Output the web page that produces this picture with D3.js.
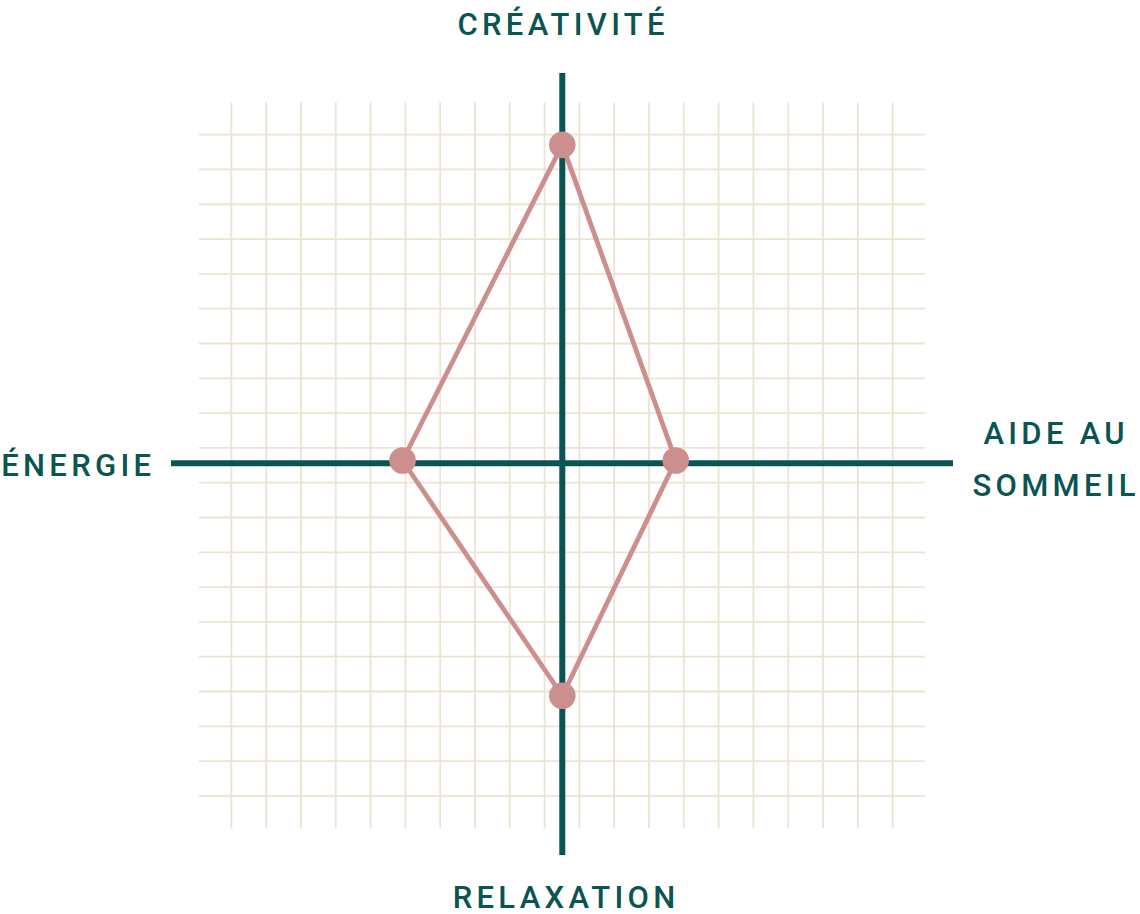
<!DOCTYPE html>
<html>
<head>
<meta charset="utf-8">
<script src="https://cdn.jsdelivr.net/npm/d3@7"></script>
<style>
  html, body { margin: 0; padding: 0; background: #ffffff; }
  svg { display: block; }
</style>
</head>
<body>
<svg id="chart" width="1140" height="914"></svg>
<script>
// ---- data ----
const axisNames = ["CRÉATIVITÉ", "AIDE AU SOMMEIL", "RELAXATION", "ÉNERGIE"];
const axisDirs = [[0, 1], [1, 0], [0, -1], [-1, 0]];
const values = [9.07, 3.26, 6.76, 4.59];
const gridTicks = [-9.5, -8.5, -7.5, -6.5, -5.5, -4.5, -3.5, -2.5, -1.5, -0.5,
                   0.5, 1.5, 2.5, 3.5, 4.5, 5.5, 6.5, 7.5, 8.5, 9.5];

// ---- layout ----
const svg = d3.select("#chart");
const teal = "#0a5452";
const rose = "#cd8e8e";
const gridColor = "#ede3d2";

const gx = d3.scaleLinear().domain([-10.43, 10.43]).range([199, 925]);
const gy = d3.scaleLinear().domain([-10.43, 10.43]).range([828.3, 102.3]);
const r = d3.scaleLinear().domain([0, 10]).range([0, 348]);
const cx = 562.3, cyAxis = 463.3, cyData = 460.5;

// grid
const grid = svg.append("g");
grid.selectAll("line.v").data(gridTicks).join("line")
  .attr("x1", d => gx(d)).attr("x2", d => gx(d))
  .attr("y1", gy(10.43)).attr("y2", gy(-10.43))
  .attr("stroke", gridColor).attr("stroke-width", 1.8);
grid.selectAll("line.h").data(gridTicks).join("line")
  .attr("y1", d => gy(d)).attr("y2", d => gy(d))
  .attr("x1", gx(-10.43)).attr("x2", gx(10.43))
  .attr("stroke", gridColor).attr("stroke-width", 1.8);

// axes
svg.append("line").attr("x1", cx).attr("x2", cx).attr("y1", 73).attr("y2", 855)
  .attr("stroke", teal).attr("stroke-width", 6);
svg.append("line").attr("x1", 171).attr("x2", 953).attr("y1", cyAxis).attr("y2", cyAxis)
  .attr("stroke", teal).attr("stroke-width", 6);

// data polygon
const pts = values.map((v, i) => [cx + axisDirs[i][0] * r(v), cyData - axisDirs[i][1] * r(v)]);
svg.append("path")
  .attr("d", d3.line().curve(d3.curveLinearClosed)(pts))
  .attr("fill", "none").attr("stroke", rose).attr("stroke-width", 4.8)
  .attr("stroke-linejoin", "round");
svg.selectAll("circle.pt").data(pts).join("circle")
  .attr("cx", d => d[0]).attr("cy", d => d[1]).attr("r", 13.3)
  .attr("fill", rose);

// labels
const ls = 4.3;
function label(lines, x, y0, anchor, lh) {
  const t = svg.append("text")
    .attr("font-family", "Roboto, 'Noto Sans', sans-serif")
    .attr("font-weight", 500)
    .attr("font-size", 31)
    .attr("letter-spacing", ls)
    .attr("fill", teal)
    .attr("text-anchor", anchor);
  lines.forEach((s, i) => {
    t.append("tspan").attr("x", anchor === "middle" ? x + ls / 2 : x + ls)
      .attr("y", y0 + i * lh).text(s);
  });
}
label([axisNames[0]], 561, 34.5, "middle", 0);
label([axisNames[2]], 564, 907.5, "middle", 0);
label([axisNames[3]], 151, 476, "end", 0);
label(["AIDE AU", "SOMMEIL"], 1054, 444, "middle", 52);
</script>
</body>
</html>
